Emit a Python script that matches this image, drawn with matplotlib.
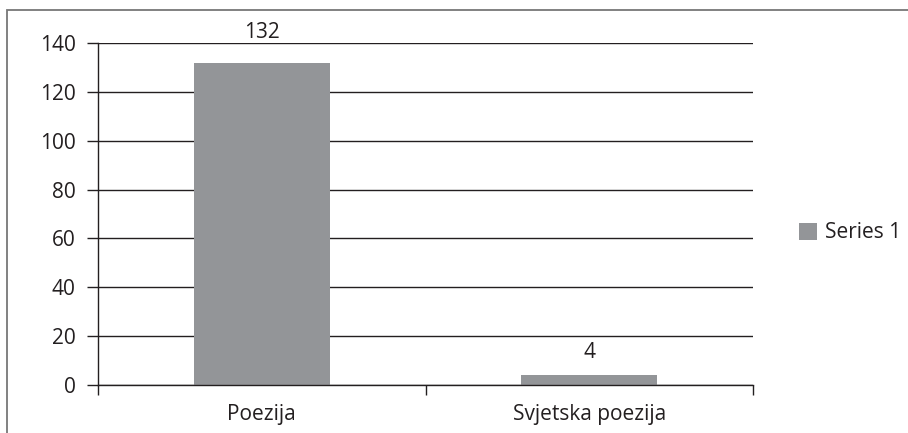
import matplotlib.pyplot as plt
from matplotlib.patches import Rectangle

categories = ["Poezija", "Svjetska poezija"]
values = [132, 4]
yticks = [0, 20, 40, 60, 80, 100, 120, 140]
series_name = "Series 1"

plt.rcParams["font.family"] = ["Open Sans", "DejaVu Sans"]

W, H = 908, 433
fs = 15
fig = plt.figure(figsize=(W / 100, H / 100), dpi=100)
ax = fig.add_axes([98 / W, 1 - 385 / H, (753 - 98) / W, (385 - 43) / H])

# outer frame, cut off at right and bottom like the original
fig.patches.append(Rectangle((7 / W, -0.1), 1.2, 1 - 10 / H + 0.1,
                             transform=fig.transFigure, fill=False,
                             edgecolor="#777777", lw=1.3, zorder=0))

x = range(len(categories))
bars = ax.bar(x, values, width=0.415, color="#939598", label=series_name, zorder=2)
label_pad = [14, 9]  # points above bar top
for b, v, p in zip(bars, values, label_pad):
    ax.annotate(str(v), (b.get_x() + b.get_width() / 2, v), xytext=(0, p),
                textcoords="offset points", ha="center", va="bottom",
                fontsize=fs, color="#231f20", annotation_clip=False)

ax.set_xlim(-0.5, 1.5)
ax.set_ylim(0, 140)
ax.set_yticks(yticks)
ax.yaxis.grid(True, color="#231f20", lw=1)
ax.set_axisbelow(True)
ax.set_xticks([-0.5, 0.5, 1.5], minor=False)
ax.set_xticklabels([])
ax.set_xticks(list(x), minor=True)
ax.set_xticklabels(categories, minor=True)
ax.tick_params(axis="x", which="minor", length=0, pad=14, labelsize=fs, labelcolor="#231f20")
ax.tick_params(axis="x", which="major", length=7, width=1, color="#231f20")
ax.tick_params(axis="y", length=8, width=1, color="#231f20", labelsize=fs,
               labelcolor="#231f20", pad=8)
for s in ["top", "right"]:
    ax.spines[s].set_visible(False)
for s in ["left", "bottom"]:
    ax.spines[s].set_color("#231f20")
    ax.spines[s].set_linewidth(1)

fig.legend(handles=[bars], labels=[series_name], loc="center left",
           bbox_to_anchor=(780 / W, 1 - 233 / H), frameon=False, fontsize=fs,
           handlelength=0.87, handleheight=0.87, handletextpad=0.4,
           labelcolor="#231f20")

fig.savefig("out.png", dpi=100)
